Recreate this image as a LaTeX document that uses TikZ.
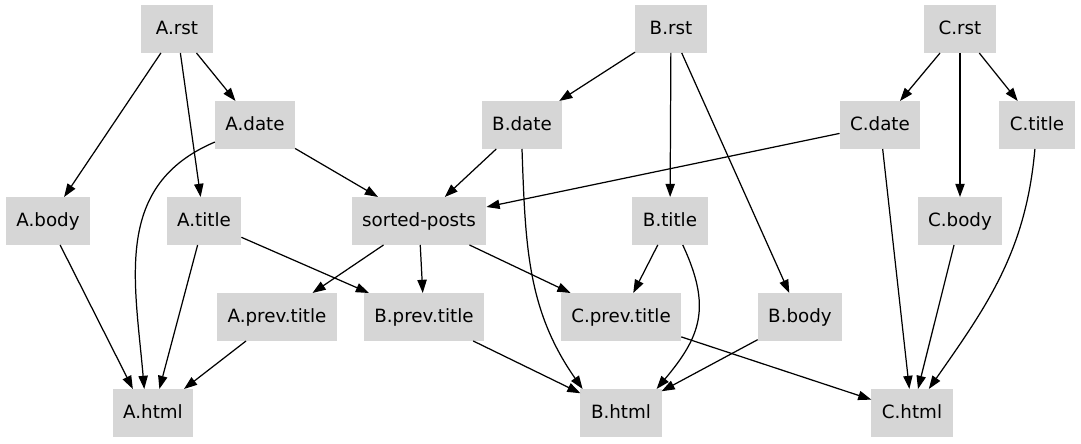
\documentclass[tikz,border=0pt]{standalone}
\usepackage{tikz}
\usepackage{fontspec}
\setmainfont{DejaVu Sans}
\usetikzlibrary{shapes, calc, arrows.meta}
\xdef\LWE{0.7pt}
\xdef\ColorBox{black!16}

\begin{document}
\begin{tikzpicture}[inner sep=0,outer sep=0,
box/.style={fill=\ColorBox, minimum width=1.44cm, minimum height=0.96cm, inner xsep=6pt, text height=7.5pt, text depth=1.8pt, font=\fontsize{10.4}{12}\selectfont},
edge/.style={line width=\LWE, -{Triangle[length=7.5pt,width=5.3pt]}}]
\useasboundingbox (0,0) rectangle (21.62,8.86);
\node[box] (Arst) at (3.54,8.28) {A.rst};
\node[box] (Brst) at (13.42,8.28) {B.rst};
\node[box] (Crst) at (19.20,8.28) {C.rst};
\node[box] (Adate) at (5.10,6.36) {A.date};
\node[box] (Bdate) at (10.44,6.36) {B.date};
\node[box] (Cdate) at (17.60,6.36) {C.date};
\node[box] (Ctitle) at (20.74,6.36) {C.title};
\node[box] (Abody) at (0.96,4.44) {A.body};
\node[box] (Atitle) at (4.08,4.44) {A.title};
\node[box] (sorted) at (8.38,4.44) {sorted-posts};
\node[box] (Btitle) at (13.40,4.44) {B.title};
\node[box] (Cbody) at (19.20,4.44) {C.body};
\node[box] (Aprev) at (5.54,2.52) {A.prev.title};
\node[box] (Bprev) at (8.48,2.52) {B.prev.title};
\node[box] (Cprev) at (12.42,2.52) {C.prev.title};
\node[box] (Bbody) at (16.00,2.52) {B.body};
\node[box] (Ahtml) at (3.06,0.60) {A.html};
\node[box] (Bhtml) at (12.42,0.60) {B.html};
\node[box] (Chtml) at (18.24,0.60) {C.html};
\draw[edge] (Arst) -- (Adate);
\draw[edge] (Arst) -- (Abody);
\draw[edge] (Arst) -- (Atitle);
\draw[edge] (Adate) -- (sorted);
\draw[edge] (Adate) to[out=203,in=95,looseness=1.1] (Ahtml.110);
\draw[edge] (Abody) -- (Ahtml.130);
\draw[edge] (Atitle) -- (Ahtml);
\draw[edge] (Atitle) -- (Bprev);
\draw[edge] (sorted) -- (Aprev);
\draw[edge] (sorted) -- (Bprev);
\draw[edge] (sorted) -- (Cprev);
\draw[edge] (Aprev) -- (Ahtml);
\draw[edge] (Bprev) -- (Bhtml);
\draw[edge] (Cprev) -- (Chtml);
\draw[edge] (Brst) -- (Bdate);
\draw[edge] (Brst) -- (Btitle);
\draw[edge] (Brst) -- (Bbody);
\draw[edge] (Bdate) -- (sorted);
\draw[edge] (Bdate.south) to[out=-88,in=125] (Bhtml.148);
\draw[edge] (Btitle) -- (Cprev);
\draw[edge] (Btitle.-62) to[out=-65,in=50,looseness=1.2] (Bhtml.34);
\draw[edge] (Bbody) -- (Bhtml);
\draw[edge] (Crst) -- (Cdate);
\draw[edge] (Crst) -- (Cbody);
\draw[edge] (Crst) -- (Ctitle);
\draw[edge] (Cdate) -- (sorted);
\draw[edge] (Cdate) -- (Chtml);
\draw[edge] (Cbody) -- (Chtml);
\draw[edge] (Ctitle) to[out=-95,in=55] (Chtml);
\end{tikzpicture}
\end{document}
